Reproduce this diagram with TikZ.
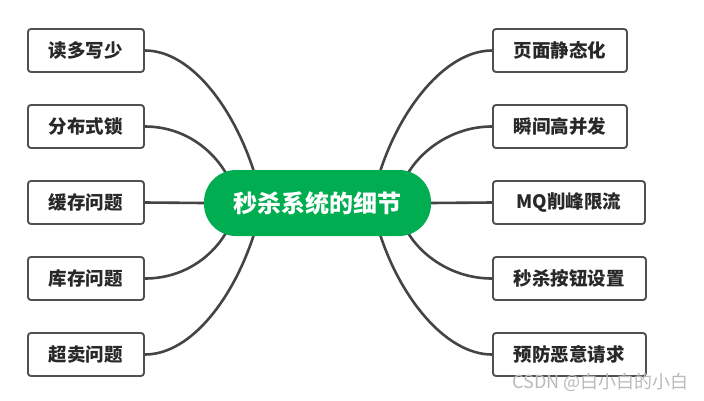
\documentclass[tikz,border=0pt]{standalone}
\usepackage{fontspec}
\setmainfont{Noto Sans CJK SC}
\usetikzlibrary{calc}
\pgfdeclarelayer{background}
\pgfsetlayers{background,main}
\definecolor{pillgreen}{RGB}{0,173,80}
\definecolor{boxline}{RGB}{80,80,80}
\definecolor{linkline}{RGB}{68,68,68}
\definecolor{txt}{RGB}{40,40,40}
\definecolor{wm}{RGB}{185,185,185}
\tikzset{
  topicbox/.style={draw=boxline, line width=1.9pt, rounded corners=3pt, fill=white,
    minimum height=43pt, inner sep=0pt, text=txt,
    font=\fontsize{18.5}{20}\selectfont\bfseries},
  leftbox/.style={topicbox, minimum width=116pt, anchor=west},
  rightbox/.style={topicbox, anchor=west},
  centerpill/.style={fill=pillgreen, rounded corners=32pt, minimum width=227pt,
    minimum height=66pt, inner sep=0pt, text=white,
    font=\fontsize{24}{26}\selectfont\bfseries},
  link/.style={draw=linkline, line width=2.6pt},
  watermark/.style={text=wm, font=\fontsize{18}{20}\selectfont, anchor=east, inner sep=0pt}
}
\begin{document}
\begin{tikzpicture}[x=1pt,y=-1pt]
\useasboundingbox (0,0) rectangle (704,400);
% center
\node[centerpill] (c) at (317.5,203) {秒杀系统的细节};
% left
\node[leftbox] (l1) at (27,50.5) {读多写少};
\node[leftbox] (l2) at (27,126.5) {分布式锁};
\node[leftbox] (l3) at (27,202.5) {缓存问题};
\node[leftbox] (l4) at (27,278.5) {库存问题};
\node[leftbox] (l5) at (27,354.5) {超卖问题};
% right
\node[rightbox, minimum width=134pt] (r1) at (492,50.5) {页面静态化};
\node[rightbox, minimum width=134pt] (r2) at (492,126.5) {瞬间高并发};
\node[rightbox, minimum width=152pt] (r3) at (492,202.5) {MQ削峰限流};
\node[rightbox, minimum width=153pt] (r4) at (492,278.5) {秒杀按钮设置};
\node[rightbox, minimum width=153pt] (r5) at (492,354.5) {预防恶意请求};
% anchor points on the pill
\coordinate (cl1) at ($(c.center)+(-62.5,-28)$);
\coordinate (cl2) at ($(c.center)+(-90.5,-28)$);
\coordinate (cl4) at ($(c.center)+(-90.5,28)$);
\coordinate (cl5) at ($(c.center)+(-62.5,28)$);
\coordinate (cr1) at ($(c.center)+(61.5,-28)$);
\coordinate (cr2) at ($(c.center)+(89.5,-28)$);
\coordinate (cr4) at ($(c.center)+(89.5,28)$);
\coordinate (cr5) at ($(c.center)+(61.5,28)$);
\begin{pgfonlayer}{background}
\draw[link] (l1.east) .. controls +(47,0) and ($(cl1)+(-20,-65)$) .. (cl1);
\draw[link] (l2.east) .. controls +(42,0) and ($(cl2)+(-12,-22)$) .. (cl2);
\draw[link] (l3.east) -- (c.west);
\draw[link] (l4.east) .. controls +(42,0) and ($(cl4)+(-12,22)$) .. (cl4);
\draw[link] (l5.east) .. controls +(47,0) and ($(cl5)+(-20,65)$) .. (cl5);
\draw[link] (r1.west) .. controls +(-47,0) and ($(cr1)+(20,-65)$) .. (cr1);
\draw[link] (r2.west) .. controls +(-42,0) and ($(cr2)+(12,-22)$) .. (cr2);
\draw[link] (r3.west) -- (c.east);
\draw[link] (r4.west) .. controls +(-42,0) and ($(cr4)+(12,22)$) .. (cr4);
\draw[link] (r5.west) .. controls +(-47,0) and ($(cr5)+(20,65)$) .. (cr5);
\end{pgfonlayer}
\node[watermark] (wm) at (689,382) {CSDN @白小白的小白};
\end{tikzpicture}
\end{document}
